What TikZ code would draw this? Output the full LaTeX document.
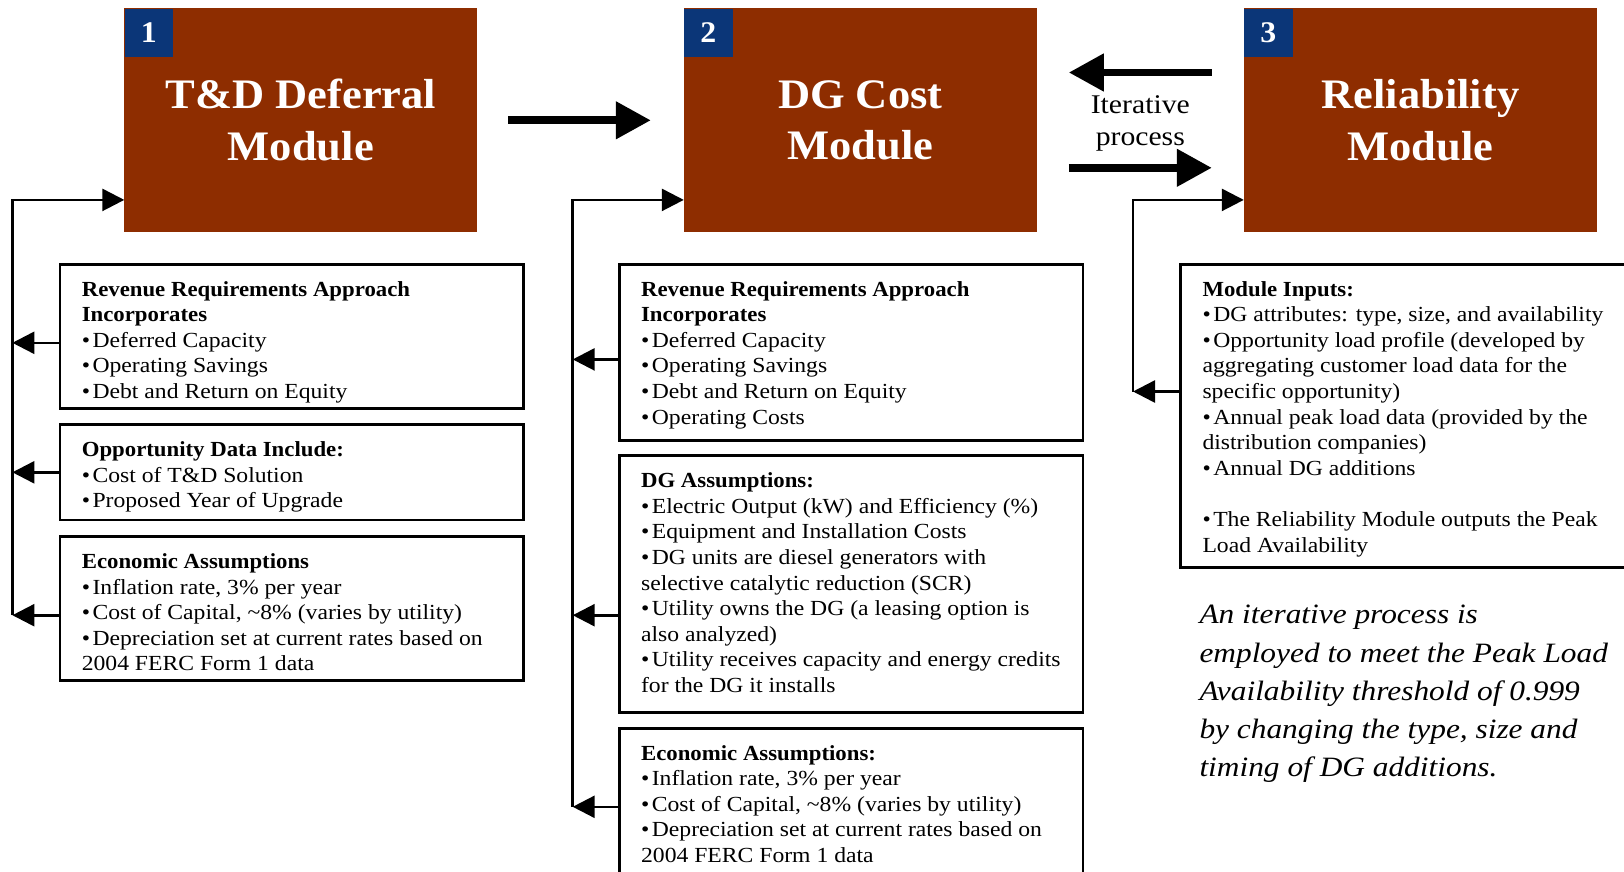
\documentclass[tikz,border=0pt]{standalone}
\usepackage{fontspec}
\setmainfont{Liberation Serif}[FakeStretch = 1.10,
                               BoldFeatures = {FakeStretch = 1.06},
                               ItalicFeatures = {FakeStretch = 1.12}]
\usepackage{tikz}
\usetikzlibrary{arrows.meta}

\definecolor{modbrown}{RGB}{142,45,0}
\definecolor{numblue}{RGB}{11,54,120}

% text block of a list box: fixed height, first baseline 32pt below the top
\newcommand{\boxtext}[2]{\parbox[t][#1][t]{420pt}{\raggedright\rule{0pt}{32pt}#2}}
\newcommand{\itm}{•\hspace{2.5pt}}

\begin{document}
\begin{tikzpicture}[x = 1pt, y = -1pt,
                    module/.style = {fill = modbrown, anchor = north west, minimum width = 353pt,
                                     minimum height = 224pt, inner sep = 0pt, outer sep = 0pt,
                                     text = white, align = center,
                                     font = \bfseries\fontsize{42}{51.8}\selectfont},
                    numsq/.style = {fill = numblue, anchor = north west, minimum size = 48.7pt,
                                    inner sep = 0pt, text = white,
                                    font = \bfseries\fontsize{30}{30}\selectfont},
                    infobox/.style = {draw, line width = 2.8pt, anchor = north west,
                                      inner xsep = 21.8pt, inner ysep = 0pt, outer sep = 0pt,
                                      font = \fontsize{21.5}{25.6}\selectfont},
                    feed/.style = {line width = 2.6pt, -{Triangle[length = 22pt, width = 22pt]}},
                    bigarrow/.style = {line width = 7.7pt, -{Triangle[length = 35pt, width = 36pt]}}]
  \useasboundingbox (0, 0) rectangle (1624, 871);
  \clip (0, 0) rectangle (1624, 871);

  % modules
  \node [module] (m1) at (124.3, 8.3) {T\&D Deferral\\Module};
  \node [module] (m2) at (683.8, 8.3) {DG Cost\\Module};
  \node [module] (m3) at (1243.8, 8.3) {Reliability\\Module};
  \node [numsq] (n1) at (m1.north west) {1};
  \node [numsq] (n2) at (m2.north west) {2};
  \node [numsq] (n3) at (m3.north west) {3};

  \draw [bigarrow] ([xshift = 31pt]m1.east) -- ([xshift = -33pt]m2.west);
  \draw [bigarrow] ([xshift = -32pt, yshift = 47.8pt]m3.west) -- ([xshift = 32pt, yshift = 47.8pt]m2.east);
  \draw [bigarrow] ([xshift = 32pt, yshift = -47.5pt]m2.east) -- ([xshift = -32pt, yshift = -47.5pt]m3.west);
  \node [align = center, inner sep = 0pt, font = \fontsize{27}{32}\selectfont] (iter) at (1140.3, 123) {Iterative\\process};

  % T&D deferral inputs
  \node [infobox] (b1) at (60, 264.1) {\boxtext{144pt}{\textbf{Revenue Requirements Approach}\\
    \textbf{Incorporates}\\
    \itm Deferred Capacity\\
    \itm Operating Savings\\
    \itm Debt and Return on Equity}};
  \node [infobox] (b2) at (60, 424.6) {\boxtext{95.3pt}{\textbf{Opportunity Data Include:}\\
    \itm Cost of T\&D Solution\\
    \itm Proposed Year of Upgrade}};
  \node [infobox] (b3) at (60, 536.5) {\boxtext{144pt}{\textbf{Economic Assumptions}\\
    \itm Inflation rate, 3\% per year\\
    \itm Cost of Capital, \textasciitilde8\% (varies by utility)\\
    \itm Depreciation set at current rates based on\\
    2004 FERC Form 1 data}};

  % DG cost inputs
  \node [infobox] (b4) at (619.3, 264.1) {\boxtext{176.1pt}{\textbf{Revenue Requirements Approach}\\
    \textbf{Incorporates}\\
    \itm Deferred Capacity\\
    \itm Operating Savings\\
    \itm Debt and Return on Equity\\
    \itm Operating Costs}};
  \node [infobox] (b5) at (619.3, 455.7) {\boxtext{256.9pt}{\textbf{DG Assumptions:}\\
    \itm Electric Output (kW) and Efficiency (\%)\\
    \itm Equipment and Installation Costs\\
    \itm DG units are diesel generators with\\
    selective catalytic reduction (SCR)\\
    \itm Utility owns the DG (a leasing option is\\
    also analyzed)\\
    \itm Utility receives capacity and energy credits\\
    for the DG it installs}};
  \node [infobox] (b6) at (619.3, 728.1) {\boxtext{160pt}{\textbf{Economic Assumptions:}\\
    \itm Inflation rate, 3\% per year\\
    \itm Cost of Capital, \textasciitilde8\% (varies by utility)\\
    \itm Depreciation set at current rates based on\\
    2004 FERC Form 1 data}};

  % reliability inputs
  \node [infobox] (b7) at (1180.7, 264.1) {\boxtext{303.5pt}{\textbf{Module Inputs:}\\
    \itm DG attributes: type, size, and availability\\
    \itm Opportunity load profile (developed by\\
    aggregating customer load data for the\\
    specific opportunity)\\
    \itm Annual peak load data (provided by the\\
    distribution companies)\\
    \itm Annual DG additions\\[25.6pt]
    \itm The Reliability Module outputs the Peak\\
    Load Availability}};

  \node [anchor = north west, align = left, inner sep = 0pt,
         font = \itshape\fontsize{28}{38.3}\selectfont] (note) at (1199.3, 605)
    {An iterative process is\\
     employed to meet the Peak Load\\
     Availability threshold of 0.999\\
     by changing the type, size and\\
     timing of DG additions.};

  % feedback lines
  \coordinate (busL) at (12.4, 199.9);
  \coordinate (a1) at (12.4, 342.8);
  \coordinate (a2) at (12.4, 472.3);
  \coordinate (a3) at (12.4, 615.2);
  \draw [feed] (a3) -- (busL) -- (busL -| m1.west);
  \draw [feed] (a1 -| b1.west) -- (a1);
  \draw [feed] (a2 -| b2.west) -- (a2);
  \draw [feed] (a3 -| b3.west) -- (a3);

  \coordinate (busM) at (572.7, 199.9);
  \coordinate (a4) at (572.7, 359.4);
  \coordinate (a5) at (572.7, 615.2);
  \coordinate (a6) at (572.7, 806.8);
  \draw [feed] (a6) -- (busM) -- (busM -| m2.west);
  \draw [feed] (a4 -| b4.west) -- (a4);
  \draw [feed] (a5 -| b5.west) -- (a5);
  \draw [feed] (a6 -| b6.west) -- (a6);

  \coordinate (busR) at (1133, 199.9);
  \coordinate (a7) at (1133, 391.5);
  \draw [feed] (a7) -- (busR) -- (busR -| m3.west);
  \draw [feed] (a7 -| b7.west) -- (a7);
\end{tikzpicture}
\end{document}
